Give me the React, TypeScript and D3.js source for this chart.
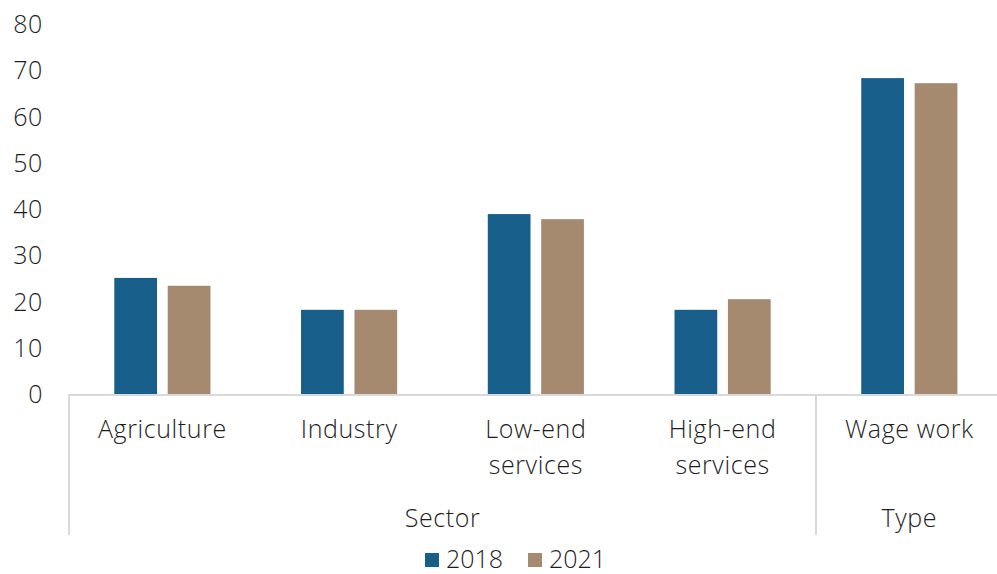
import React from "react";
import * as d3 from "d3";

const categories = ["Agriculture", "Industry", "Low-end services", "High-end services", "Wage work"];
const categoryLines = [["Agriculture"], ["Industry"], ["Low-end", "services"], ["High-end", "services"], ["Wage work"]];
const groups = [
  { name: "Sector", from: 0, to: 3 },
  { name: "Type", from: 4, to: 4 },
];
const seriesNames = ["2018", "2021"];
const values2018 = [25.1, 18.2, 38.9, 18.2, 68.3];
const values2021 = [23.4, 18.2, 37.8, 20.5, 67.2];
const yTicks = [0, 10, 20, 30, 40, 50, 60, 70, 80];
const colors = ["#175E8A", "#A68A70"];

const W = 997;
const H = 574;
const FONT = "'Open Sans', 'Liberation Sans', sans-serif";
const TEXT = "#1E1E1E";
const AXIS = "#D9D9D9";
const FS = 25;
const LS = 0.6;
const FW = 300;

export default function App() {
  const left = 69;
  const right = 1002.7;
  const base = 394;
  const top = 24;
  const y = d3.scaleLinear().domain([0, 80]).range([base, top]);
  const x = d3.scaleBand<string>().domain(categories).range([left, right]).padding(0);
  const xs = d3
    .scaleBand<string>()
    .domain(seriesNames)
    .range([0, x.bandwidth()])
    .paddingInner(0.2)
    .paddingOuter(0.848);
  const series = [values2018, values2021];

  const groupBoundaries = [left, ...groups.map((g) => (x(categories[g.to]) as number) + x.bandwidth())];

  return (
    <svg
      width={W}
      height={H}
      style={{ position: "absolute", left: 0, top: 0, display: "block", background: "#fff" }}
      fontFamily={FONT}
      fontWeight={FW}
    >
      {/* y tick labels */}
      {yTicks.map((t) => (
        <text key={t} x={43} y={y(t)} dy="0.36em" textAnchor="end" fontSize={FS} letterSpacing={LS} fill={TEXT}>
          {t}
        </text>
      ))}
      {/* bars */}
      {categories.map((c, i) =>
        seriesNames.map((s, j) => (
          <rect
            key={c + s}
            x={(x(c) as number) + (xs(s) as number)}
            y={y(series[j][i])}
            width={xs.bandwidth()}
            height={base - y(series[j][i])}
            fill={colors[j]}
          />
        ))
      )}
      {/* axis line */}
      <line x1={left} x2={W} y1={base + 1} y2={base + 1} stroke={AXIS} strokeWidth={2} />
      {/* group separators */}
      {groupBoundaries
        .filter((b) => b < W)
        .map((b, i) => (
          <line key={i} x1={b} x2={b} y1={base} y2={535} stroke={AXIS} strokeWidth={2} />
        ))}
      {/* category labels */}
      {categories.map((c, i) => (
        <text key={c} x={(x(c) as number) + x.bandwidth() / 2} textAnchor="middle" fontSize={FS} letterSpacing={LS} fill={TEXT}>
          {categoryLines[i].map((ln, k) => (
            <tspan key={k} x={(x(c) as number) + x.bandwidth() / 2} y={438 + k * 36}>
              {ln}
            </tspan>
          ))}
        </text>
      ))}
      {/* group labels */}
      {groups.map((g) => {
        const a = x(categories[g.from]) as number;
        const b = (x(categories[g.to]) as number) + x.bandwidth();
        return (
          <text key={g.name} x={(a + b) / 2} y={527} textAnchor="middle" fontSize={FS} letterSpacing={LS} fill={TEXT}>
            {g.name}
          </text>
        );
      })}
      {/* legend */}
      {seriesNames.map((s, j) => {
        const lx = 425 + j * 103;
        return (
          <g key={s}>
            <rect x={lx} y={553} width={14} height={14} fill={colors[j]} />
            <text x={lx + 21} y={568} fontSize={FS} fill={TEXT}>
              {s}
            </text>
          </g>
        );
      })}
    </svg>
  );
}
